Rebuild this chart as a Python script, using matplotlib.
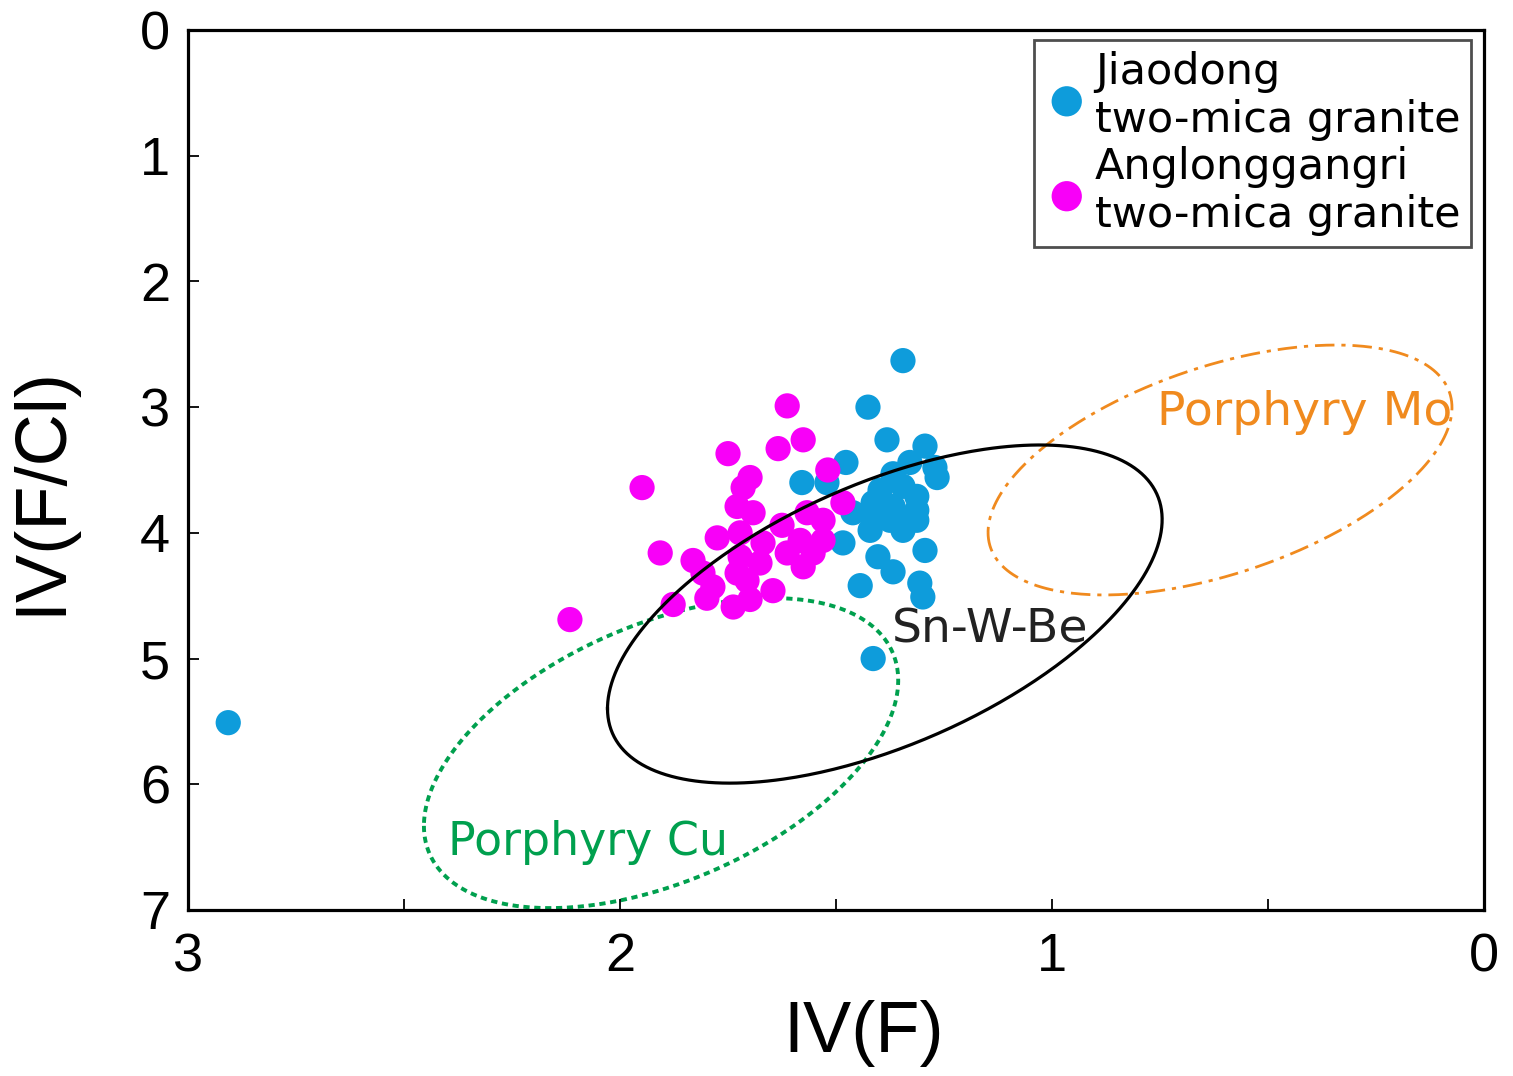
import numpy as np
import matplotlib
matplotlib.use("Agg")
import matplotlib.pyplot as plt
from matplotlib.ticker import MultipleLocator

plt.rcParams['font.family'] = ['Liberation Sans', 'DejaVu Sans']

# -----------------------------------------------------
# data: IV(F), IV(F/Cl)
# -----------------------------------------------------
jiaodong_ivf = [1.345, 1.426, 1.382, 1.294, 1.477, 1.579, 1.521, 1.329, 1.271, 1.266,
                1.368, 1.398, 1.345, 1.313, 1.414, 1.368, 1.313, 1.461, 1.414, 1.375,
                1.336, 1.313, 1.421, 1.345, 1.484, 1.294, 1.403, 1.368, 1.444, 1.306,
                1.299, 1.414, 2.907]
jiaodong_ivfcl = [2.63, 3.00, 3.26, 3.31, 3.44, 3.60, 3.60, 3.44, 3.48, 3.56,
                  3.53, 3.66, 3.63, 3.71, 3.76, 3.79, 3.82, 3.84, 3.90, 3.90,
                  3.92, 3.90, 3.98, 3.98, 4.08, 4.14, 4.19, 4.31, 4.42, 4.40,
                  4.51, 5.00, 5.51]

anglong_ivf = [1.613, 1.576, 1.634, 1.750, 1.949, 1.519, 1.699, 1.715, 1.729, 1.692,
               1.484, 1.567, 1.530, 1.625, 1.722, 1.775, 1.583, 1.530, 1.669, 1.613,
               1.553, 1.907, 1.831, 1.722, 1.676, 1.576, 1.808, 1.729, 1.785, 1.706,
               1.646, 1.799, 1.877, 1.738, 1.699, 2.116]
anglong_ivfcl = [2.99, 3.26, 3.33, 3.37, 3.64, 3.50, 3.56, 3.64, 3.79, 3.84,
                 3.76, 3.84, 3.90, 3.94, 4.00, 4.04, 4.06, 4.06, 4.08, 4.16,
                 4.16, 4.16, 4.22, 4.19, 4.24, 4.27, 4.32, 4.32, 4.43, 4.38,
                 4.46, 4.52, 4.57, 4.59, 4.53, 4.69]

# fields: centre x, centre y, half-width x, half-height y, phase (deg)
campo_snwbe = (1.387, 4.646, 0.642, 1.345, 56)
campo_cu = (1.905, 5.752, 0.549, 1.233, 62)
campo_mo = (0.611, 3.500, 0.537, 0.994, 60)

COR_AZUL = '#0E9CDB'
COR_MAGENTA = '#F800F8'
COR_VERDE = '#00A04E'
COR_LARANJA = '#F08A1E'
FONTE_LARGA = ['DejaVu Sans']


def elipse(campo, n=400):
    cx, cy, rx, ry, fase = campo
    t = np.linspace(0, 2 * np.pi, n)
    return cx + rx * np.cos(t), cy + ry * np.cos(t - np.radians(fase))


fig = plt.figure(figsize=(15.13, 10.76), dpi=100)
ax = fig.add_axes([0.1243, 0.1543, 0.8565, 0.8178])

# green field under the points, black one on top
x, y = elipse(campo_cu)
ax.plot(x, y, color=COR_VERDE, lw=2.8, linestyle=(0, (1.6, 1.2)), zorder=1)
x, y = elipse(campo_mo)
ax.plot(x, y, color=COR_LARANJA, lw=2.0, linestyle=(0, (7, 2.5, 1.5, 2.5)), zorder=1)

ax.scatter(jiaodong_ivf, jiaodong_ivfcl, s=330, color=COR_AZUL, edgecolors='none',
           zorder=2, label='Jiaodong\ntwo-mica granite')
ax.scatter(anglong_ivf, anglong_ivfcl, s=330, color=COR_MAGENTA, edgecolors='none',
           zorder=2, label='Anglonggangri\ntwo-mica granite')

x, y = elipse(campo_snwbe)
ax.plot(x, y, color='black', lw=2.3, zorder=3)

ax.text(1.144, 4.87, 'Sn-W-Be', fontsize=34, family=FONTE_LARGA, color='#222222',
        ha='center', va='baseline', zorder=4)
ax.text(0.414, 3.142, 'Porphyry Mo', fontsize=34, family=FONTE_LARGA, color=COR_LARANJA,
        ha='center', va='baseline', zorder=4)
ax.text(2.074, 6.56, 'Porphyry Cu', fontsize=33, family=FONTE_LARGA, color=COR_VERDE,
        ha='center', va='baseline', zorder=4)

ax.set_xlim(3, 0)
ax.set_ylim(7, 0)
ax.xaxis.set_major_locator(MultipleLocator(1))
ax.xaxis.set_minor_locator(MultipleLocator(0.5))
ax.yaxis.set_major_locator(MultipleLocator(1))
ax.tick_params(axis='both', which='both', direction='in', length=8, width=1.3, labelsize=39)
ax.tick_params(axis='x', pad=16)
ax.tick_params(axis='y', pad=13)
for lado in ax.spines.values():
    lado.set_linewidth(2.3)

ax.set_xlabel('IV(F)', fontsize=52)
ax.set_ylabel('IV(F/Cl)', fontsize=52)
ax.xaxis.set_label_coords(0.5216, -0.102)
ax.yaxis.set_label_coords(-0.087, 0.477)

leg = ax.legend(loc='upper right', bbox_to_anchor=(0.990, 0.9886), prop={'family': FONTE_LARGA, 'size': 31},
                frameon=True, fancybox=False, edgecolor='#222222', markerscale=1.2,
                handletextpad=0.15, borderpad=0.25, labelspacing=0.1, handlelength=1.0,
                borderaxespad=0.0)
leg.get_frame().set_linewidth(2.0)

fig.savefig('out.png', dpi=100)
